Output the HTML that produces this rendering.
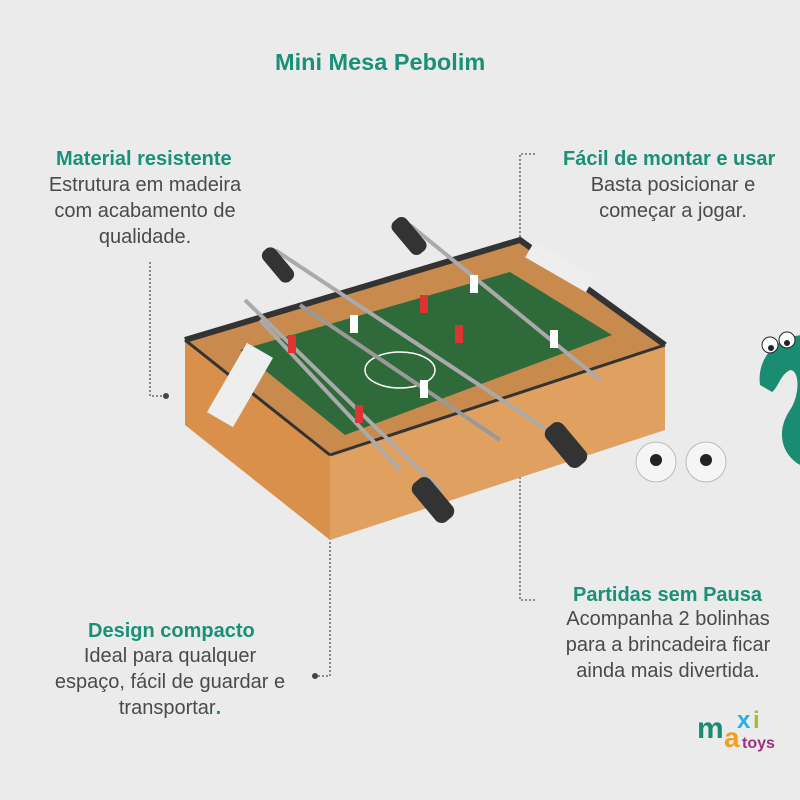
<!DOCTYPE html>
<html><head><meta charset="utf-8"><style>
body{margin:0;width:800px;height:800px;background:#ebebeb;font-family:"Liberation Sans",sans-serif;position:relative;overflow:hidden}
.t{position:absolute;color:#1a9078;font-weight:bold;font-size:20px;white-space:nowrap}
.b{position:absolute;color:#4a4a4a;font-size:20px;line-height:26px;text-align:center;white-space:nowrap}
</style></head><body>
<svg width="800" height="800" style="position:absolute;left:0;top:0">
<g stroke="#555" stroke-width="1.3" fill="none" stroke-dasharray="2,2">
<polyline points="150,262 150,396 165,396"/>
<polyline points="535,154 520,154 520,255"/>
<polyline points="330,530 330,676 315,676"/>
<polyline points="520,445 520,600 535,600"/>
</g>
<circle cx="166" cy="396" r="3" fill="#444"/><circle cx="520" cy="257" r="3" fill="#444"/>
<circle cx="315" cy="676" r="3" fill="#444"/><circle cx="520" cy="445" r="3" fill="#444"/>
<polygon points="185,340 330,455 330,540 185,425" fill="#d9904a"/>
<polygon points="330,455 665,345 665,430 330,540" fill="#e0a060"/>
<polygon points="185,340 520,240 665,345 330,455" fill="#c98a4e"/>
<polygon points="240,350 510,272 612,335 345,435" fill="#2f6b3a"/>
<polyline points="185,340 520,240 665,345" stroke="#333" stroke-width="6" fill="none"/>
<line x1="185" y1="340" x2="330" y2="455" stroke="#333" stroke-width="3"/>
<line x1="330" y1="455" x2="665" y2="345" stroke="#333" stroke-width="3"/>
<ellipse cx="400" cy="370" rx="35" ry="18" stroke="#fff" fill="none" stroke-width="1.5"/>
<line x1="300" y1="305" x2="500" y2="440" stroke="#999" stroke-width="4"/>
<g stroke="#aaa" stroke-width="4">
<line x1="245" y1="300" x2="440" y2="490"/><line x1="275" y1="250" x2="570" y2="445"/>
<line x1="410" y1="225" x2="600" y2="380"/><line x1="260" y1="320" x2="400" y2="470"/>
</g>
<g fill="#333"><rect x="270" y="245" width="16" height="40" rx="7" transform="rotate(-40 278 265)"/>
<rect x="400" y="215" width="18" height="42" rx="7" transform="rotate(-40 409 236)"/>
<rect x="555" y="420" width="22" height="50" rx="8" transform="rotate(-40 566 445)"/>
<rect x="422" y="475" width="22" height="50" rx="8" transform="rotate(-40 433 500)"/></g>
<g fill="#d33"><rect x="288" y="335" width="8" height="18"/><rect x="355" y="405" width="8" height="18"/><rect x="455" y="325" width="8" height="18"/><rect x="420" y="295" width="8" height="18"/></g>
<g fill="#fff"><rect x="350" y="315" width="8" height="18"/><rect x="420" y="380" width="8" height="18"/><rect x="550" y="330" width="8" height="18"/><rect x="470" y="275" width="8" height="18"/></g>
<rect x="225" y="345" width="30" height="80" fill="#eee" transform="rotate(30 240 385)"/>
<rect x="525" y="258" width="70" height="18" fill="#eee" transform="rotate(30 560 267)"/>
<circle cx="656" cy="462" r="20" fill="#f5f5f5" stroke="#bbb"/><circle cx="656" cy="460" r="6" fill="#222"/>
<circle cx="706" cy="462" r="20" fill="#f5f5f5" stroke="#bbb"/><circle cx="706" cy="460" r="6" fill="#222"/>
<path d="M760,385 C755,345 800,325 820,340 L820,470 C790,470 770,440 790,410 C800,395 800,370 790,370 C780,375 778,388 772,392 Z" fill="#1a8c72"/>
<circle cx="770" cy="345" r="8" fill="#fff" stroke="#222"/><circle cx="787" cy="340" r="8" fill="#fff" stroke="#222"/>
<circle cx="771" cy="348" r="3" fill="#222"/><circle cx="787" cy="343" r="3" fill="#222"/>
<text x="697" y="738" font-family="Liberation Sans" font-weight="bold" font-size="30" fill="#1a8c72">m</text>
<text x="724" y="747" font-family="Liberation Sans" font-weight="bold" font-size="28" fill="#f0a020">a</text>
<text x="737" y="728" font-family="Liberation Sans" font-weight="bold" font-size="24" fill="#2ab0e0">x</text>
<text x="753" y="728" font-family="Liberation Sans" font-weight="bold" font-size="24" fill="#a0c030">i</text>
<text x="742" y="748" font-family="Liberation Sans" font-weight="bold" font-size="16" fill="#a0307a">toys</text>
</svg>
<div class="t" style="left:275px;top:49px;font-size:23.5px">Mini Mesa Pebolim</div>
<div class="t" style="left:56px;top:148px">Material resistente</div>
<div class="b" style="left:45px;top:172px;width:200px">Estrutura em madeira<br>com acabamento de<br>qualidade.</div>
<div class="t" style="left:563px;top:148px">Fácil de montar e usar</div>
<div class="b" style="left:573px;top:172px;width:200px">Basta posicionar e<br>começar a jogar.</div>
<div class="t" style="left:88px;top:620px">Design compacto</div>
<div class="b" style="left:40px;top:643px;width:260px">Ideal para qualquer<br>espaço, fácil de guardar e<br>transportar<b style="color:#1a9078">.</b></div>
<div class="t" style="left:573px;top:584px">Partidas sem Pausa</div>
<div class="b" style="left:548px;top:606px;width:240px">Acompanha 2 bolinhas<br>para a brincadeira ficar<br>ainda mais divertida.</div>
</body></html>
